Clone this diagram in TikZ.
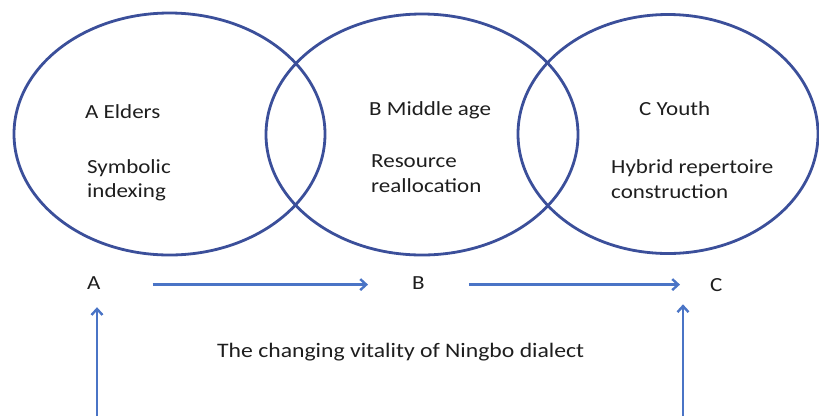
\documentclass[tikz,border=0pt]{standalone}
\usepackage{fontspec}
\setmainfont{Carlito}
\usetikzlibrary{arrows.meta,shapes.geometric}
\definecolor{ringblue}{HTML}{3B4F9A}
\definecolor{flowblue}{HTML}{4A74C6}
\definecolor{inkgrey}{HTML}{1E1E1E}
\newcommand{\wide}[1]{\scalebox{1.15}[1]{#1}}
\tikzset{
  ring/.style={ellipse, draw=ringblue, line width=2.8pt, inner sep=0pt},
  lbl/.style={anchor=base west, inner sep=0pt, text=inkgrey, font=\fontsize{20}{23}\selectfont},
  tag/.style={anchor=base west, inner sep=3pt, text=inkgrey, font=\fontsize{20}{23}\selectfont},
  flow/.style={draw=flowblue, line width=2.6pt, -{Straight Barb[length=6pt,width=11pt,line width=2.4pt]}},
}
\begin{document}
\begin{tikzpicture}[x=1pt,y=-1pt]
\useasboundingbox (0,0) rectangle (819,416);
% three overlapping generation circles
\node[ring, minimum width=311pt, minimum height=242pt] (eA) at (169.5,134) {};
\node[ring, minimum width=312pt, minimum height=241pt] (eB) at (422,134.5) {};
\node[ring, minimum width=300pt, minimum height=239pt] (eC) at (668,134) {};
% texts inside the circles
\node[lbl] (tA) at (85,118) {\wide{A Elders}};
\node[lbl] (sA1) at (87,173) {\wide{Symbolic}};
\node[lbl] (sA2) at (87,197) {\wide{indexing}};
\node[lbl] (tB) at (369,115) {\wide{B Middle age}};
\node[lbl] (sB1) at (371,167) {\wide{Resource}};
\node[lbl] (sB2) at (371,192) {\wide{reallocation}};
\node[lbl] (tC) at (639,115) {\wide{C Youth}};
\node[lbl] (sC1) at (611,173) {\wide{Hybrid repertoire}};
\node[lbl] (sC2) at (611,198) {\wide{construction}};
% sequence A -> B -> C
\node[tag] (A) at (84,289) {\wide{A}};
\node[tag] (B) at (409,289) {\wide{B}};
\node[tag] (C) at (707,291) {\wide{C}};
\node[lbl, font=\fontsize{20.6}{23}\selectfont] (cap) at (217,357) {\wide{The changing vitality of Ningbo dialect}};
\coordinate (qL) at (97,416);
\coordinate (qR) at (683,416);
\draw[flow, shorten <=49pt, shorten >=41pt] ([yshift=-2pt]A.east) -- ([yshift=-2pt]A.east -| B.west);
\draw[flow, shorten <=41pt, shorten >=27pt] ([yshift=-2pt]B.east) -- ([yshift=-2pt]B.east -| C.west);
\draw[flow, shorten >=15pt] (qL) -- (qL |- A.south);
\draw[flow, shorten >=10pt] (qR) -- (qR |- C.south);
\end{tikzpicture}
\end{document}
